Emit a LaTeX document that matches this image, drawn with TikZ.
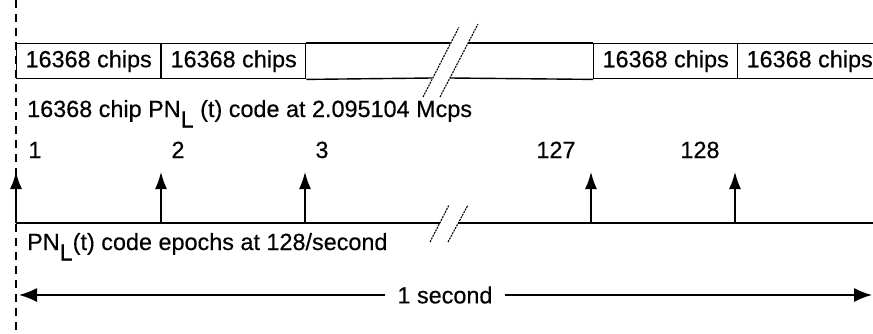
\documentclass[tikz,border=0pt]{standalone}
\usepackage{fontspec}
\setmainfont[FakeBold=0.4]{Liberation Sans}
\usetikzlibrary{arrows.meta}

\newcommand\pnl{PN\raisebox{-10.5pt}{L}}

\begin{document}
\begin{tikzpicture}[
    x=1pt, y=-1pt,
    font=\fontsize{23.4}{28}\selectfont,
    cell/.style={draw, line width=1.4pt, anchor=north west,
                 minimum width=144pt, minimum height=35pt, inner sep=0pt},
    rule/.style={line width=1.4pt},
    brk/.style={line width=1.1pt, dash pattern=on 2pt off 1pt},
    epoch/.style={-{Latex[length=17pt, width=12pt]}, line width=1.5pt},
    secarr/.style={-{Latex[length=18pt, width=14pt]}, line width=1.5pt},
    txt/.style={anchor=base west, inner sep=0pt},
    num/.style={anchor=base, inner sep=0pt},
  ]
  \useasboundingbox (0,0) rectangle (873,333);

  % -- time zero (dashed)
  \coordinate (z0) at (16,0);
  \coordinate (z1) at (16,333);
  \draw[line width=1.3pt, dash pattern=on 8pt off 6pt] (z0) -- (z1);

  % -- chip row
  \node[cell] (c1) at (16,43)  {16368 chips};
  \node[cell] (c2) at (161,43) {16368 chips};
  \node[cell] (c3) at (593,43) {16368 chips};
  \node[cell] (c4) at (737,43) {16368 chips};

  \coordinate (ta) at (450,43);
  \coordinate (tb) at (468,43);
  \coordinate (ba) at (432,78);
  \coordinate (bb) at (450,78);
  \draw[rule] (c2.north east) -- (ta);
  \draw[rule] (tb) -- (c3.north west);
  \draw[rule] (c2.south east) -- (ba);
  \draw[rule] (bb) -- (c3.south west);

  \coordinate (s1a) at (423,97);
  \coordinate (s1b) at (459,27);
  \coordinate (s2a) at (440,97);
  \coordinate (s2b) at (478,24);
  \draw[brk] (s1a) -- (s1b);
  \draw[brk] (s2a) -- (s2b);

  \node[txt] (chipnote) at (27,117)
    {16368 chip \pnl\ (t) code at 2.095104 Mcps};

  % -- epoch line
  \coordinate (b0) at (16,223);
  \coordinate (cut1) at (440,223);
  \coordinate (cut2) at (458,223);
  \coordinate (b9) at (873,223);
  \draw[rule] (b0) -- (cut1);
  \draw[rule] (cut2) -- (b9);

  \coordinate (r1a) at (430,242);
  \coordinate (r1b) at (449,205);
  \coordinate (r2a) at (448,242);
  \coordinate (r2b) at (468,205);
  \draw[brk] (r1a) -- (r1b);
  \draw[brk] (r2a) -- (r2b);

  \foreach \x/\lx/\n in {16/35/1, 161/178/2, 305/322/3, 591/556/127, 735/700/128} {
    \coordinate (ep\n) at (\x,223);
    \coordinate (tip\n) at (\x,172);
    \draw[epoch] (ep\n) -- (tip\n);
    \node[num] (lab\n) at (\lx,158) {\n};
  }

  \node[txt] (epochnote) at (27,250) {\pnl(t) code epochs at 128/second};

  % -- one second span
  \coordinate (sl) at (19,295);
  \coordinate (sr) at (872,295);
  \node[inner xsep=12pt, inner ysep=0pt] (sec) at (445,295) {1 second};
  \draw[secarr] (sec.west) -- (sl);
  \draw[secarr] (sec.east) -- (sr);
\end{tikzpicture}
\end{document}
